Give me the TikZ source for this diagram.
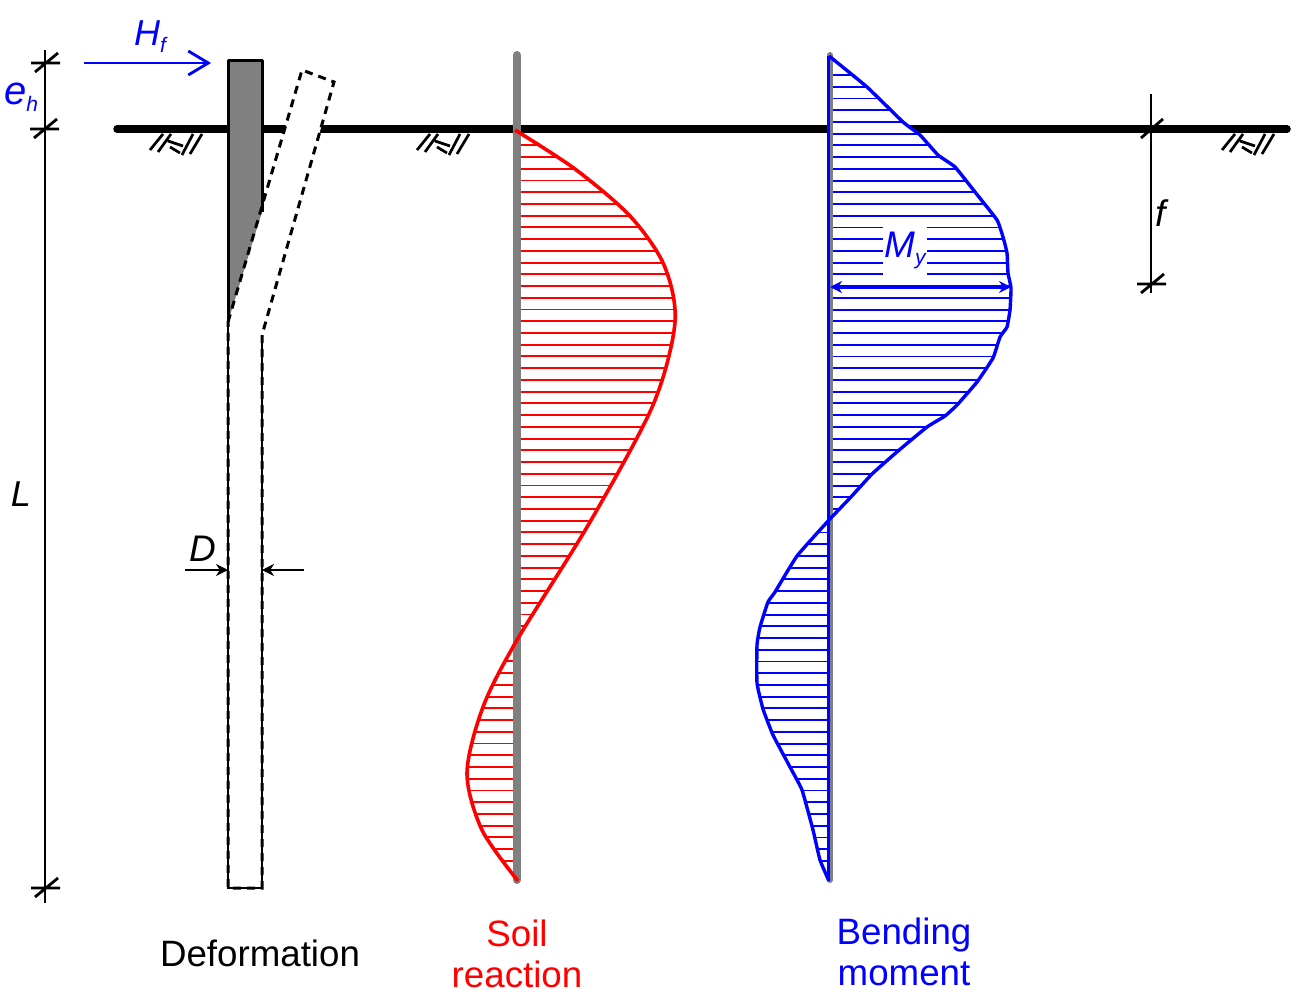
\documentclass[tikz,border=0pt]{standalone}
\usepackage{fontspec}
\setmainfont{Liberation Sans}
\usetikzlibrary{arrows.meta}

\definecolor{pilegray}{gray}{0.5}
\newcommand{\symb}[3]{\fontsize{#1}{#1}\selectfont\itshape #2\raisebox{-7pt}{\fontsize{21}{21}\selectfont #3}}

\tikzset{
  dimline/.style={line width=2.8pt,black},
  hatchline/.style={line width=1.9pt},
  dashline/.style={line width=3pt,dash pattern=on 8pt off 6pt},
  caption/.style={font=\fontsize{36.7}{41}\selectfont,align=center,inner sep=0pt},
  sym/.style={inner sep=0pt},
  soil/.pic={
    \draw[line width=2.7pt] (-25,7) -- (-12,-9) (-17,9) -- (-4,-9) (7,12) -- (18,-9) (15,11) -- (27,-9)
      (-7,-2) -- (8,3) (-5,4) -- (5,10);
  },
  tick/.pic={
    \draw[dimline] (-14,0) -- (15,0) (-10,9) -- (13,-10);
  }
}

\begin{document}
\begin{tikzpicture}[x=1pt,y=-1pt,inner sep=1pt]
\useasboundingbox (0,0) rectangle (1304,1001);

\coordinate (GL) at (117,129);
\coordinate (GR) at (1287,129);
\path (GL) edge [line width=7.5pt,line cap=round] (GR);
\pic (soilA) at (175,143) {soil};
\pic (soilB) at (442,143) {soil};
\pic (soilC) at (1247,143) {soil};

% deformation
\coordinate (PA) at (228,322);
\coordinate (PB) at (302,70);
\coordinate (PC) at (334,82);
\coordinate (PD) at (262,335);
\coordinate (PE) at (262,888);
\coordinate (PF) at (228,888);
\fill[white] (PA) -- (PB) -- (PC) -- (PD) -- (PE) -- (PF) -- cycle;
\fill[pilegray] (PA) -- (228,60) -- (262,60) -- (262,212) -- cycle;
\draw[line width=3pt,line join=round] (PA) -- (228,60) -- (262,60) -- (262,212);
\draw[line width=1.4pt] (PA) -- (PF) -- (PE) -- (PD);
\draw[dashline] (PA) -- (PB) -- (PC) -- (PD) -- (PE) -- (PF) -- cycle;

% dimensions
\coordinate (LT) at (45,50);
\coordinate (LB) at (45,903);
\coordinate (FT) at (1151,94);
\coordinate (FB) at (1151,293);
\path (LT) edge [dimline] (LB);
\path (FT) edge [dimline] (FB);
\pic (tickA) at (45,63) {tick};
\pic (tickB) at (44,129) {tick};
\pic (tickC) at (45,888) {tick};
\pic (tickD) at (1151,284) {tick};
\draw[dimline] (1141,138) -- (1163,119);

\coordinate (HL) at (84,63);
\coordinate (HR) at (211,63);
\path (HL) edge [-{Straight Barb[length=20pt,width=24pt]},blue,line width=2.8pt] (HR);
\coordinate (DL) at (185,570);
\coordinate (DA) at (228,570);
\coordinate (DR) at (304,570);
\coordinate (DB) at (262,570);
\path (DL) edge [-{Stealth[length=12pt,width=12pt]},dimline] (DA);
\path (DR) edge [-{Stealth[length=12pt,width=12pt]},dimline] (DB);

% soil reaction
\path[save path=\redcurve] plot[smooth] coordinates {(515,130) (575,169) (630,216) (664,265) (675,322)
  (653,405) (590,522) (517,640) (483,707) (467,773) (482,830) (518,881)};
\begin{scope}
\clip[use path=\redcurve];
\foreach \k in {0,...,61}
  \draw[red,hatchline] (440,{145.3+11.73*\k}) -- (700,{145.3+11.73*\k});
\end{scope}
\coordinate (ST) at (517,55);
\coordinate (SB) at (517,880);
\path (ST) edge [pilegray,line width=8pt,line cap=round] (SB);
\draw[red,line width=3.6pt,use path=\redcurve];

% bending moment
\path[save path=\bluecurve] plot[smooth,tension=0.25] coordinates {(829,56) (867,87) (903,122) (920,135)
  (938,155) (955,167) (975,192) (997,220) (1003,237) (1007,253) (1008,273) (1011,288)
  (1010,310) (1007,327) (1000,337) (993,358) (977,382) (957,405) (945,416) (927,427)
  (898,451) (872,474) (850,498) (829,520)
  (797,556) (775,592) (768,602) (760,627) (757,645) (757,683)
  (763,709) (773,735) (790,767) (802,790) (813,830) (820,860) (829,881)};
\fill[white,use path=\bluecurve];
\begin{scope}
\clip[use path=\bluecurve];
\foreach \k in {0,...,67}
  \draw[blue,hatchline] (740,{75+11.73*\k}) -- (1030,{75+11.73*\k});
\end{scope}
\coordinate (MT) at (830,55);
\coordinate (MB) at (830,880);
\path (MT) edge [pilegray,line width=6pt,line cap=round] (MB);
\draw[blue,line width=3.4pt,line join=round,use path=\bluecurve];
\coordinate (MS) at (828.5,56);
\coordinate (ME) at (828.5,881);
\path (MS) edge [blue,line width=3.4pt] (ME);
\coordinate (ML) at (830,287);
\coordinate (MR) at (1011,287);
\path (ML) edge [{Stealth[length=12pt,width=12pt]}-{Stealth[length=12pt,width=12pt]},blue,line width=3pt] (MR);
\node[fill=white,minimum width=44pt,minimum height=48pt,inner sep=0pt] (Mbox) at (905,251) {};

% labels
\node[sym,blue] (Hf) at (150,37) {\symb{36}{H}{f}};
\node[sym,blue] (eh) at (21,97) {\symb{40}{e}{h}};
\node[sym] (Llab) at (21,498) {\symb{36}{L}{}};
\node[sym] (Dlab) at (203,552) {\symb{37}{D}{}};
\node[sym] (flab) at (1161,217) {\symb{37}{f}{}};
\node[sym,blue] (Mlab) at (905,250) {\symb{37}{M}{y}};
\node[caption] (defo) at (260,953) {Deformation};
\node[caption,red] (soilcap) at (517,954) {Soil\\reaction};
\node[caption,blue] (momcap) at (904,952) {Bending\\moment};
\end{tikzpicture}
\end{document}
